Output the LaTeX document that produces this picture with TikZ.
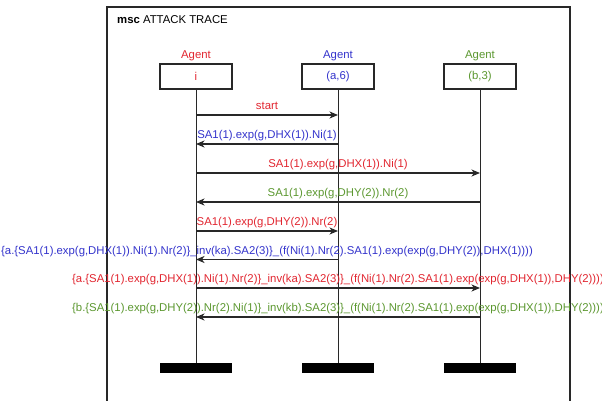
\documentclass[tikz,border=0pt]{standalone}
\usepackage{fontspec}
\setmainfont{Liberation Sans}
\usetikzlibrary{arrows.meta}
\definecolor{cred}{RGB}{226,38,48}
\definecolor{cblue}{RGB}{52,52,204}
\definecolor{cgreen}{RGB}{92,152,48}
\definecolor{framec}{RGB}{40,40,40}
\begin{document}
\begin{tikzpicture}[x=1pt,y=-1pt,
  font=\fontsize{11.35}{13}\selectfont,
  agentbox/.style={draw=framec,line width=1.1pt,minimum width=72pt,minimum height=25pt,inner sep=0pt},
  agentlbl/.style={anchor=base,inner sep=0pt},
  endbar/.style={fill=black,minimum width=72pt,minimum height=10pt,inner sep=0pt},
  lifeline/.style={draw=framec,line width=1pt},
  msg/.style={draw=framec,line width=1.1pt,-{Stealth[length=8.5pt,width=7pt,inset=2.5pt]}},
  lbl/.style={midway,anchor=base,yshift=5.5pt,inner sep=0pt}]
\useasboundingbox (0,0) rectangle (602,401);
\fill[white] (0,0) rectangle (602,401);
\draw[framec,line width=1.3pt] (107,402) -- (107,7) -- (570,7) -- (570,402);
\node[anchor=base west,inner sep=0pt] (title) at (117,24) {\textbf{msc} ATTACK TRACE};

\node[agentlbl,text=cred] (li) at (196,58.5) {Agent};
\node[agentlbl,text=cblue] (la) at (338,58.5) {Agent};
\node[agentlbl,text=cgreen] (lb) at (480,58.5) {Agent};

\node[agentbox,text=cred] (i) at (196,76.5) {i};
\node[agentbox,text=cblue] (a) at (338,76.5) {(a,6)};
\node[agentbox,text=cgreen] (b) at (480,76.5) {(b,3)};

\node[endbar] (ei) at (196,368) {};
\node[endbar] (ea) at (338,368) {};
\node[endbar] (eb) at (480,368) {};

\draw[lifeline] (i) -- (ei);
\draw[lifeline] (a) -- (ea);
\draw[lifeline] (b) -- (eb);

\draw[msg] (i |- 0,115) -- node[lbl,text=cred] {start} (a |- 0,115);
\draw[msg] (a |- 0,144) -- node[lbl,text=cblue] {SA1(1).exp(g,DHX(1)).Ni(1)} (i |- 0,144);
\draw[msg] (i |- 0,173) -- node[lbl,text=cred] {SA1(1).exp(g,DHX(1)).Ni(1)} (b |- 0,173);
\draw[msg] (b |- 0,202) -- node[lbl,text=cgreen] {SA1(1).exp(g,DHY(2)).Nr(2)} (i |- 0,202);
\draw[msg] (i |- 0,231) -- node[lbl,text=cred] {SA1(1).exp(g,DHY(2)).Nr(2)} (a |- 0,231);
\draw[msg] (a |- 0,259.5) -- node[lbl,text=cblue] {\{a.\{SA1(1).exp(g,DHX(1)).Ni(1).Nr(2)\}\_inv(ka).SA2(3)\}\_(f(Ni(1).Nr(2).SA1(1).exp(exp(g,DHY(2)),DHX(1))))} (i |- 0,259.5);
\draw[msg] (i |- 0,288) -- node[lbl,text=cred] {\{a.\{SA1(1).exp(g,DHX(1)).Ni(1).Nr(2)\}\_inv(ka).SA2(3)\}\_(f(Ni(1).Nr(2).SA1(1).exp(exp(g,DHX(1)),DHY(2))))} (b |- 0,288);
\draw[msg] (b |- 0,317) -- node[lbl,text=cgreen] {\{b.\{SA1(1).exp(g,DHY(2)).Nr(2).Ni(1)\}\_inv(kb).SA2(3)\}\_(f(Ni(1).Nr(2).SA1(1).exp(exp(g,DHX(1)),DHY(2))))} (i |- 0,317);
\end{tikzpicture}
\end{document}
